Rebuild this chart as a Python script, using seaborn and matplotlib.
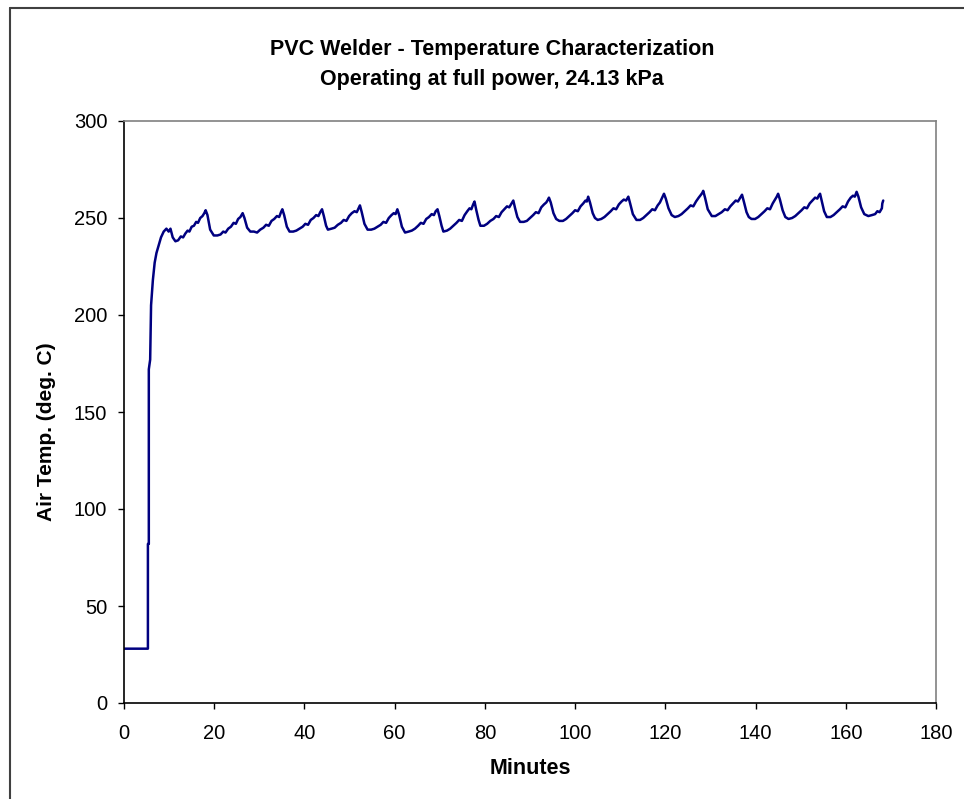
import matplotlib
matplotlib.use("Agg")
import matplotlib.pyplot as plt
from matplotlib.lines import Line2D
import seaborn as sns
import pandas as pd

title_line1 = "PVC Welder - Temperature Characterization"
title_line2 = "Operating at full power, 24.13 kPa"
x_label = "Minutes"
y_label = "Air Temp. (deg. C)"
x_ticks = [0, 20, 40, 60, 80, 100, 120, 140, 160, 180]
y_ticks = [0, 50, 100, 150, 200, 250, 300]

minutes = [
    0, 5.3, 5.3, 5.5, 5.5, 5.8, 6.0, 6.4, 6.8, 7.2, 7.7, 8.2, 8.8, 9.4, 9.9, 10.3, 10.8, 11.4, 12.0, 12.6,
    13.1, 13.6, 14.1, 14.5, 15.0, 15.5, 16.0, 16.4, 16.9, 17.4, 17.8, 18.1, 18.5, 19.1, 19.9,
    20.7, 21.4, 22.0, 22.5, 23.1, 23.7, 24.3, 24.8, 25.3, 25.8, 26.3, 26.7, 27.3, 28.0,
    28.8, 29.5, 30.2, 30.9, 31.5, 32.1, 32.7, 33.3, 33.9, 34.4, 34.8, 35.1, 35.5, 36.1, 36.7,
    37.5, 38.2, 38.9, 39.6, 40.2, 40.8, 41.4, 42.0, 42.6, 43.1, 43.5, 43.9, 44.3, 44.8, 45.2,
    46.0, 46.7, 47.4, 48.1, 48.7, 49.3, 49.9, 50.5, 51.1, 51.6, 52.0, 52.3, 52.7, 53.3, 54.0,
    54.8, 55.5, 56.2, 56.9, 57.5, 58.1, 58.7, 59.3, 59.8, 60.2, 60.6, 61.0, 61.6, 62.3,
    63.1, 63.8, 64.5, 65.2, 65.8, 66.4, 67.0, 67.6, 68.2, 68.7, 69.1, 69.5, 69.9, 70.4, 70.8,
    71.6, 72.3, 73.0, 73.7, 74.3, 74.9, 75.5, 76.1, 76.6, 77.0, 77.4, 77.7, 78.1, 78.6, 79.0,
    79.8, 80.5, 81.2, 81.9, 82.5, 83.1, 83.7, 84.3, 84.9, 85.4, 85.9, 86.3, 86.7, 87.2, 87.8,
    88.6, 89.3, 90.0, 90.7, 91.3, 91.9, 92.5, 93.1, 93.6, 94.0, 94.2, 94.6, 95.2, 95.8, 96.5,
    97.3, 98.0, 98.7, 99.4, 100.0, 100.6, 101.2, 101.8, 102.3, 102.6, 102.9, 103.3, 103.9, 104.4, 105.0,
    105.8, 106.5, 107.2, 107.9, 108.5, 109.1, 109.7, 110.3, 110.8, 111.3, 111.8, 112.2, 112.8, 113.6,
    114.4, 115.1, 115.8, 116.5, 117.1, 117.7, 118.3, 118.8, 119.2, 119.5, 119.7, 120.1, 120.7, 121.4, 122.1,
    122.9, 123.6, 124.3, 125.0, 125.6, 126.2, 126.8, 127.4, 127.9, 128.2, 128.4, 128.8, 129.4, 130.3,
    131.1, 131.8, 132.5, 133.2, 133.8, 134.4, 135.0, 135.6, 136.1, 136.6, 137.0, 137.4, 138.0, 138.5, 139.1,
    139.9, 140.6, 141.3, 142.0, 142.6, 143.2, 143.8, 144.3, 144.7, 145.0, 145.4, 146.0, 146.6, 147.3,
    148.1, 148.8, 149.5, 150.2, 150.8, 151.4, 152.0, 152.6, 153.2, 153.7, 154.0, 154.3, 154.7, 155.2, 155.8,
    156.6, 157.3, 158.0, 158.7, 159.3, 159.9, 160.5, 161.1, 161.6, 162.0, 162.4, 162.8, 163.4, 164.1, 165.0,
    165.8, 166.5, 167.0, 167.5, 168.0, 168.1, 168.3,
]

air_temp = [
    28, 28, 82, 82, 172, 177, 205, 218, 227, 232, 236, 240, 243, 244.5, 243, 244.5, 240, 238, 238.5, 240.5,
    240, 242, 243.5, 243, 245.5, 246, 248, 247.5, 250, 251, 252.5, 254, 251.5, 244, 241,
    241, 241.5, 243, 242.5, 244.5, 245.5, 247.5, 247, 249.5, 250.5, 252.5, 250, 245, 243,
    243, 242.5, 244, 245, 246.5, 246, 248.5, 249.5, 251, 250.5, 253, 254.5, 251.5, 245.5, 243,
    243, 243.5, 244.5, 245.5, 247, 246.5, 249, 250, 251.5, 251, 253, 254.5, 251, 246, 244,
    244.5, 245, 246.5, 247.5, 249, 248.5, 251, 252.5, 253.5, 253, 255, 256.5, 253, 247, 244,
    244, 244.5, 245.5, 246.5, 248, 247.5, 250, 251.5, 252.5, 252, 254.5, 251.5, 245.5, 242.5,
    243, 243.5, 244.5, 246, 247.5, 247, 249.5, 250.5, 252, 251.5, 253.5, 254.5, 251, 246, 243,
    243.5, 244.5, 246, 247.5, 249, 248.5, 251.5, 253.5, 255, 254.5, 257, 258.5, 254, 249, 246,
    246, 247, 248.5, 249.5, 251, 250.5, 253, 254.5, 256, 255.5, 257.5, 259, 255, 250.5, 248,
    248, 248.5, 250, 251.5, 253, 252.5, 255.5, 257, 258, 259.5, 260.5, 258, 252.5, 249.5, 248.5,
    248.5, 249.5, 251, 252.5, 254, 253.5, 256, 257.5, 259, 258.5, 261, 258, 252.5, 250, 249,
    249.5, 250.5, 252, 253.5, 255, 254.5, 257, 258.5, 259.5, 259, 261, 257.5, 252, 249,
    249, 250, 251.5, 253, 254.5, 254, 256.5, 258, 260, 261.5, 262.5, 260, 255, 251.5, 250.5,
    251, 252, 253.5, 255, 256.5, 256, 258.5, 260.5, 262, 263, 264, 260.5, 254.5, 251,
    251, 252, 253, 254.5, 254, 256, 257.5, 259, 258.5, 260.5, 262, 258.5, 253, 250.5, 249.5,
    249.5, 250.5, 252, 253.5, 255, 254.5, 257.5, 259.5, 261, 262.5, 259.5, 254, 250.5, 249.5,
    250, 251, 252.5, 254, 255.5, 255, 257.5, 259, 260.5, 260, 261.5, 262.5, 258.5, 253.5, 250.5,
    250.5, 251.5, 253, 254.5, 256, 255.5, 258.5, 260.5, 261.5, 261, 263.5, 261, 255.5, 252, 251,
    251.5, 252, 253.5, 253, 255, 257.5, 259,
]

df = pd.DataFrame({"Minutes": minutes, "Temp": air_temp})

sns.set_theme(style="white")
plt.rcParams["font.family"] = ["Liberation Sans", "DejaVu Sans"]

W, H = 964, 799
fig = plt.figure(figsize=(W / 100, H / 100), dpi=100)
fig.patch.set_facecolor("white")
ax = fig.add_axes([124 / W, 1 - 703 / H, (936 - 124) / W, (703 - 121) / H])

sns.lineplot(data=df, x="Minutes", y="Temp", sort=False, estimator=None,
             color="#000080", linewidth=1.8, ax=ax)

ax.set_xlim(0, 180)
ax.set_ylim(0, 300)
ax.set_xticks(x_ticks)
ax.set_yticks(y_ticks)
ax.set_xticklabels([str(t) for t in x_ticks])
ax.set_yticklabels([str(t) for t in y_ticks])
ax.tick_params(axis="both", direction="out", length=4, width=1, color="black",
               labelsize=14.5, labelcolor="black", bottom=True, left=True)
ax.tick_params(axis="y", pad=8)
ax.tick_params(axis="x", pad=11)
ax.set_xlabel("")
ax.set_ylabel("")
ax.grid(False)

for s in ["left", "bottom"]:
    ax.spines[s].set_color("black")
    ax.spines[s].set_linewidth(1.2)
for s in ["top", "right"]:
    ax.spines[s].set_color("#808080")
    ax.spines[s].set_linewidth(1.2)
    ax.spines[s].set_visible(True)

fig.text(492 / W, 1 - 49 / H, title_line1, ha="center", va="center",
         fontsize=15.5, fontweight="bold", color="black")
fig.text(492 / W, 1 - 79 / H, title_line2, ha="center", va="center",
         fontsize=15.5, fontweight="bold", color="black")
fig.text(530 / W, 1 - 768 / H, x_label, ha="center", va="center",
         fontsize=15.5, fontweight="bold", color="black")
fig.text(47 / W, 1 - 432 / H, y_label, ha="center", va="center", rotation=90,
         fontsize=15, fontweight="bold", color="black")

# chart-area border (cut off at right and bottom in the reference)
fig.add_artist(Line2D([10 / W, 10 / W], [0, 1 - 8 / H], color="#404040", linewidth=1.5))
fig.add_artist(Line2D([10 / W, 1], [1 - 8 / H, 1 - 8 / H], color="#404040", linewidth=1.5))

fig.savefig("out.png", dpi=100)
